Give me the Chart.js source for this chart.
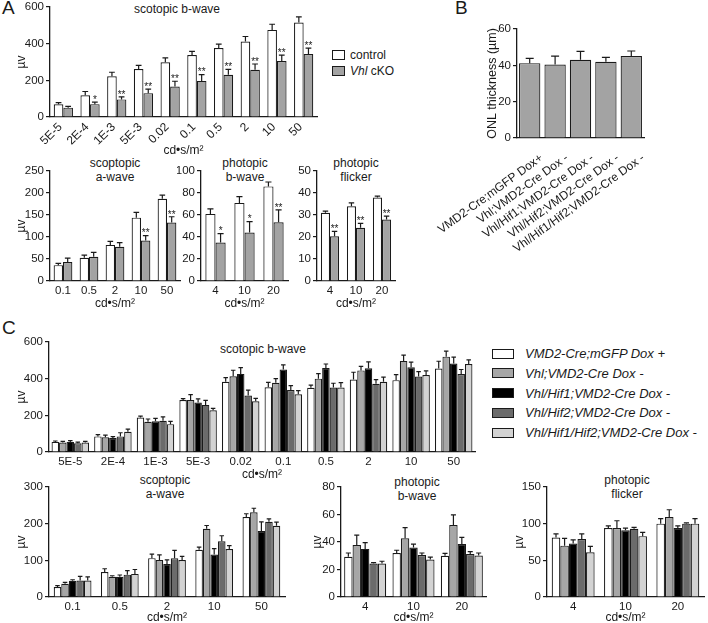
<!DOCTYPE html>
<html>
<head>
<meta charset="utf-8">
<script src="https://cdn.jsdelivr.net/npm/chart.js@4.4.1/dist/chart.umd.min.js"></script>
<style>
  body { margin: 0; width: 708px; height: 623px; position: relative; overflow: hidden; background: #fff;
         font-family: 'Liberation Sans', Arial, sans-serif; color: #1a1a1a; }
  canvas { position: absolute; }
  .t { position: absolute; transform: translate(-50%, -50%); font-size: 12px; line-height: 14px; text-align: center; white-space: nowrap; }
  .pl { position: absolute; font-size: 19px; }
  .lg { position: absolute; font-size: 12px; white-space: nowrap; transform: translateY(-50%); }
  .lgc { font-size: 13px; font-style: italic; }
  .sw { position: absolute; border: 1.3px solid #1a1a1a; box-sizing: border-box; }
</style>
</head>
<body>
<div class="pl" style="left:2px;top:-3px">A</div>
<div class="pl" style="left:455px;top:-3px">B</div>
<div class="pl" style="left:2px;top:317px">C</div>

<div class="t" style="left:177px;top:9px">scotopic b-wave</div>
<div class="t" style="left:115px;top:170px">scoptopic<br>a-wave</div>
<div class="t" style="left:245px;top:170px">photopic<br>b-wave</div>
<div class="t" style="left:356px;top:170px">photopic<br>flicker</div>

<div class="sw" style="left:332px;top:50px;width:13px;height:10px;background:#fff"></div>
<div class="sw" style="left:332px;top:66px;width:13px;height:10px;background:#a3a3a3"></div>
<div class="lg" style="left:350px;top:55px">control</div>
<div class="lg" style="left:350px;top:71px"><i>Vhl</i> cKO</div>

<div class="t" style="left:263px;top:349px">scotopic b-wave</div>
<div class="t" style="left:165px;top:487px">scoptopic<br>a-wave</div>
<div class="t" style="left:417px;top:489px">photopic<br>b-wave</div>
<div class="t" style="left:627px;top:487px">photopic<br>flicker</div>

<div id="legendC"></div>

<script>
// ---- panel A : control vs Vhl cKO ----
const scotLux = ['5E-5', '2E-4', '1E-3', '5E-3', '0.02', '0.1', '0.5', '2', '10', '50'];
const scotCtrl = [69, 119, 222, 262, 298, 338, 376, 412, 475, 515];
const scotCtrlErr = [78, 139, 244, 282, 322, 358, 398, 439, 506, 546];
const scotKo = [51, 70, 96, 130, 166, 197, 230, 258, 305, 343];
const scotKoErr = [58, 81, 110, 152, 195, 231, 260, 289, 338, 376];
const scotSig = ['', '*', '**', '**', '**', '**', '**', '**', '**', '**'];

const aLux = ['0.1', '0.5', '2', '10', '50'];
const aCtrl = [36, 53, 82, 144, 187];
const aCtrlErr = [40, 59, 90, 156, 195];
const aKo = [43, 55, 78, 92, 133];
const aKoErr = [52, 65, 87, 103, 146];
const aSig = ['', '', '', '**', '**'];

const photLux = ['4', '10', '20'];
const pbCtrl = [61, 71, 86];
const pbCtrlErr = [65.5, 76.7, 90];
const pbKo = [35, 44, 53.4];
const pbKoErr = [43, 54, 64.6];
const pbSig = ['*', '*', '**'];

const flCtrl = [31, 34, 37.9];
const flCtrlErr = [31.8, 35.5, 38.6];
const flKo = [20.3, 24.2, 27.9];
const flKoErr = [22.6, 26.2, 29.5];
const flSig = ['**', '**', '**'];

// ---- panel B : ONL thickness ----
const genotypes = ['VMD2-Cre;mGFP Dox+', 'Vhl;VMD2-Cre Dox -', 'Vhl/Hif1;VMD2-Cre Dox -',
                   'Vhl/Hif2;VMD2-Cre Dox -', 'Vhl/Hif1/Hif2;VMD2-Cre Dox -'];
const onl = [41.2, 40.5, 43.1, 42, 45.1];
const onlErr = [43.8, 45.1, 47.7, 44.4, 47.9];

// ---- panel C : five genotypes ----
const legendC = ['VMD2-Cre;mGFP Dox +', 'Vhl;VMD2-Cre Dox -', 'Vhl/Hif1;VMD2-Cre Dox -',
                 'Vhl/Hif2;VMD2-Cre Dox -', 'Vhl/Hif1/Hif2;VMD2-Cre Dox -'];
const scotC = [
  [55, 85, 188, 283, 383, 353, 350, 395, 392, 455],
  [52, 80, 165, 283, 413, 378, 400, 445, 497, 520],
  [55, 76, 168, 270, 426, 450, 458, 457, 462, 483],
  [48, 85, 170, 257, 308, 338, 352, 372, 412, 425],
  [52, 110, 152, 228, 277, 315, 352, 383, 420, 480]
];
const scotCErr = [
  [60, 95, 196, 291, 406, 380, 365, 435, 422, 495],
  [58, 92, 180, 313, 446, 400, 428, 467, 528, 550],
  [62, 84, 183, 290, 460, 475, 480, 492, 490, 518],
  [54, 105, 192, 282, 337, 362, 375, 395, 438, 450],
  [58, 125, 167, 238, 292, 335, 378, 408, 442, 502]
];
const aC = [
  [27, 68, 106, 129, 218],
  [36, 55, 101, 186, 231],
  [44, 55, 90, 116, 180],
  [45, 61, 106, 152, 205],
  [45, 63, 101, 131, 194]
];
const aCErr = [
  [31, 77, 117, 136, 227],
  [40, 58, 115, 195, 242],
  [47, 60, 101, 132, 205],
  [56, 72, 127, 167, 213],
  [55, 75, 111, 140, 204]
];
const pbC = [
  [29.3, 32, 30],
  [37.8, 42.7, 52.4],
  [35, 36, 38.5],
  [24.4, 30.5, 31.2],
  [24.4, 27.3, 30.2]
];
const pbCErr = [
  [32, 34, 31.7],
  [45, 50.5, 59.8],
  [39.5, 38.5, 43.4],
  [25, 32, 33],
  [26, 29, 32]
];
const flC = [
  [81, 94, 100],
  [70, 94, 109],
  [73, 91, 94],
  [79, 93, 100],
  [61, 83, 100]
];
const flCErr = [
  [86, 97, 107],
  [80, 104, 119],
  [78, 94, 97],
  [86, 95, 101],
  [69, 88, 107]
];

const FONT = "'Liberation Sans', Arial, sans-serif";
const INK = '#1a1a1a';
const twoColors = ['#ffffff', '#a3a3a3'];
const fiveColors = ['#ffffff', '#a6a6a6', '#000000', '#6b6b6b', '#d3d3d3'];

// upper error bars + significance stars
const errorBars = {
  id: 'errorBars',
  afterDatasetsDraw(chart) {
    const ctx = chart.ctx;
    const y = chart.scales.y;
    ctx.save();
    ctx.strokeStyle = INK;
    ctx.fillStyle = INK;
    ctx.lineWidth = 1.2;
    ctx.font = '10px ' + FONT;
    ctx.textAlign = 'center';
    ctx.textBaseline = 'bottom';
    chart.data.datasets.forEach((ds, i) => {
      if (!ds.err) return;
      chart.getDatasetMeta(i).data.forEach((bar, j) => {
        const top = y.getPixelForValue(ds.err[j]);
        const cap = Math.min(bar.width * 0.3, 4);
        ctx.beginPath();
        ctx.moveTo(bar.x, bar.y);
        ctx.lineTo(bar.x, top);
        ctx.moveTo(bar.x - cap, top);
        ctx.lineTo(bar.x + cap, top);
        ctx.stroke();
        if (ds.sig && ds.sig[j]) ctx.fillText(ds.sig[j], bar.x, top + 3);
      });
    });
    ctx.restore();
  }
};

function panel(o) {
  const [l, t, r, b] = o.plot;
  const padL = o.padL || 0, padT = 9, padR = o.padR || 4;
  const cv = document.createElement('canvas');
  cv.width = (r - l) + o.yW + padL + padR;
  cv.height = (b - t) + padT + o.xH;
  cv.style.left = (l - o.yW - padL) + 'px';
  cv.style.top = (t - padT) + 'px';
  document.body.appendChild(cv);
  const rot = o.rot || 0;
  new Chart(cv, {
    type: 'bar',
    data: {
      labels: o.labels,
      datasets: o.sets.map((s, i) => ({
        data: s.data, err: s.err, sig: s.sig,
        backgroundColor: o.colors[i],
        borderColor: INK,
        borderWidth: 1.2,
        categoryPercentage: o.cat,
        barPercentage: 1.0
      }))
    },
    options: {
      responsive: false,
      animation: false,
      layout: { padding: { left: padL, top: padT, right: padR, bottom: 0 } },
      plugins: { legend: { display: false }, tooltip: { enabled: false } },
      scales: {
        x: {
          afterFit: s => { s.height = o.xH; s.paddingLeft = 0; s.paddingRight = 0; },
          grid: { display: false, drawTicks: false },
          border: { display: true, color: INK, width: 1.3 },
          ticks: { color: INK, font: { family: FONT, size: o.xSize || 11.5 }, minRotation: rot, maxRotation: rot,
                   autoSkip: false, padding: o.xPad || 3, labelOffset: o.lblOff || 0 },
          title: { display: !!o.xTitle, text: o.xTitle, color: INK, font: { family: FONT, size: 12 },
                   padding: { top: 0, bottom: 3 } }
        },
        y: {
          min: 0, max: o.yMax,
          afterFit: s => { s.width = o.yW; s.paddingTop = 0; s.paddingBottom = 0; },
          grid: { display: true, drawOnChartArea: false, drawTicks: true, tickLength: 4, color: INK, lineWidth: 1.2 },
          border: { display: true, color: INK, width: 1.3 },
          ticks: { stepSize: o.yStep, color: INK, font: { family: FONT, size: 11.5 }, padding: 2 },
          title: { display: !!o.yTitle, text: o.yTitle, color: INK, font: { family: FONT, size: o.yTitleSize || 12 },
                   padding: { top: 2, bottom: 2 } }
        }
      }
    },
    plugins: [errorBars]
  });
}

const XT = 'cd•s/m²';

panel({ plot: [50, 7, 317, 117], yW: 38, xH: 44, rot: 45, xSize: 12, lblOff: -3, labels: scotLux, yMax: 600, yStep: 200,
        yTitle: 'µv', xTitle: XT, cat: 0.72, colors: twoColors,
        sets: [{ data: scotCtrl, err: scotCtrlErr }, { data: scotKo, err: scotKoErr, sig: scotSig }] });

panel({ plot: [50, 171, 180, 281], yW: 38, xH: 33, labels: aLux, yMax: 250, yStep: 50,
        yTitle: 'µv', xTitle: XT, cat: 0.72, colors: twoColors,
        sets: [{ data: aCtrl, err: aCtrlErr }, { data: aKo, err: aKoErr, sig: aSig }] });

panel({ plot: [201, 170.5, 288, 281], yW: 24, xH: 33, labels: photLux, yMax: 100, yStep: 20,
        xTitle: XT, cat: 0.7, colors: twoColors,
        sets: [{ data: pbCtrl, err: pbCtrlErr }, { data: pbKo, err: pbKoErr, sig: pbSig }] });

panel({ plot: [317, 171, 395, 281], yW: 24, xH: 33, labels: photLux, yMax: 50, yStep: 10,
        xTitle: XT, cat: 0.7, colors: twoColors,
        sets: [{ data: flCtrl, err: flCtrlErr }, { data: flKo, err: flKoErr, sig: flSig }] });

panel({ plot: [517, 29, 644, 138], yW: 34, padL: 60, padR: 30, xH: 150, rot: 36, xSize: 12, xPad: 13, lblOff: 12,
        labels: genotypes, yMax: 60, yStep: 20,
        yTitle: 'ONL thickness (µm)', yTitleSize: 12.5, cat: 0.84, colors: ['#a3a3a3'],
        sets: [{ data: onl, err: onlErr }] });

const setsOf = (vals, errs) => vals.map((v, i) => ({ data: v, err: errs[i] }));

panel({ plot: [49, 342, 475, 452], yW: 37, xH: 33, labels: scotLux, yMax: 600, yStep: 200,
        yTitle: 'µv', xTitle: XT, cat: 0.88, colors: fiveColors, sets: setsOf(scotC, scotCErr) });

panel({ plot: [49, 487, 285, 597], yW: 37, xH: 31, labels: aLux, yMax: 300, yStep: 100,
        yTitle: 'µv', xTitle: XT, cat: 0.8, colors: fiveColors, sets: setsOf(aC, aCErr) });

panel({ plot: [341, 487, 486, 597], yW: 33, xH: 31, labels: photLux, yMax: 80, yStep: 20,
        yTitle: 'µv', xTitle: XT, cat: 0.87, colors: fiveColors, sets: setsOf(pbC, pbCErr) });

panel({ plot: [547, 487, 704, 597], yW: 37, xH: 31, labels: photLux, yMax: 150, yStep: 50,
        yTitle: 'µv', xTitle: XT, cat: 0.82, colors: fiveColors, sets: setsOf(flC, flCErr) });

// legend for panel C
const lgHost = document.getElementById('legendC');
legendC.forEach((name, i) => {
  const yc = 353 + i * 19.8;
  const sw = document.createElement('div');
  sw.className = 'sw';
  sw.style.cssText = `left:492px;top:${yc - 4.5}px;width:22px;height:10px;background:${fiveColors[i]}`;
  const tx = document.createElement('div');
  tx.className = 'lg lgc';
  tx.style.cssText = `left:525px;top:${yc}px`;
  tx.textContent = name;
  lgHost.appendChild(sw);
  lgHost.appendChild(tx);
});
</script>
</body>
</html>
